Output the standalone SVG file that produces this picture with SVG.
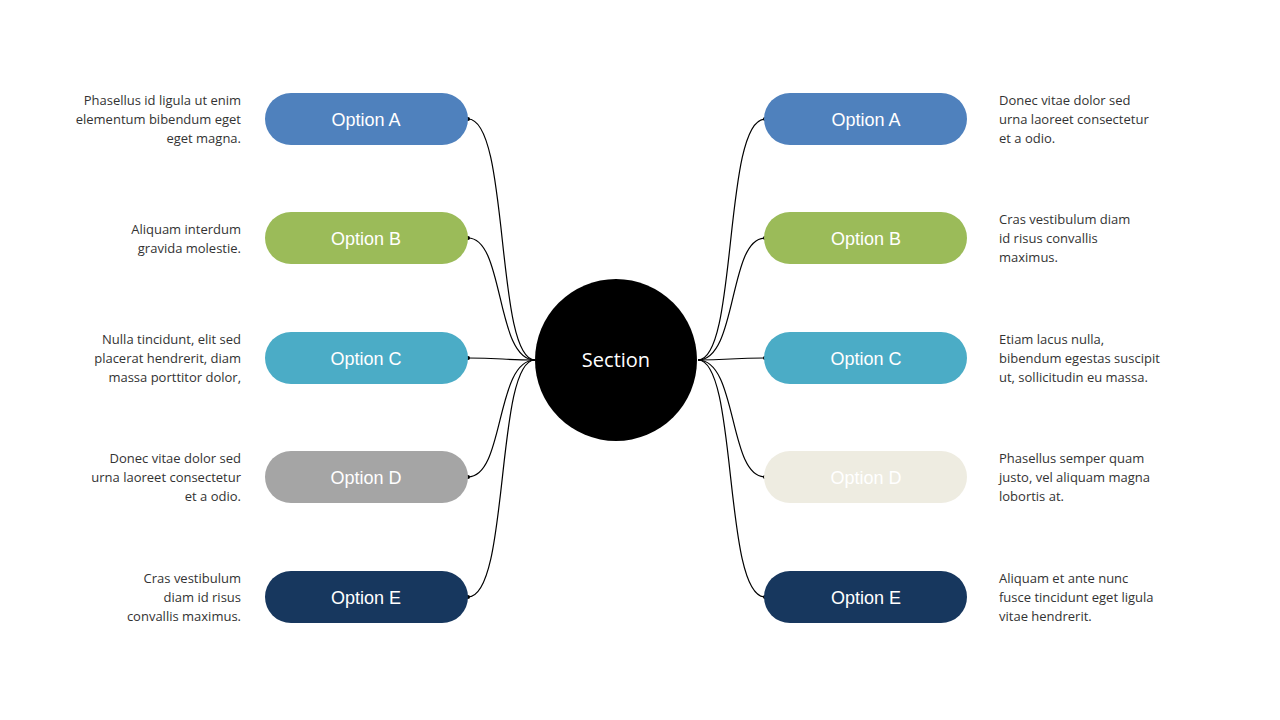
<svg xmlns="http://www.w3.org/2000/svg" width="1280" height="720" viewBox="0 0 1280 720">
<style>
.o{font-family:"Liberation Sans",Arial,sans-serif;font-size:18px;fill:#fff;text-anchor:middle}
.d{font-family:"Open Sans","DejaVu Sans",sans-serif;font-size:13px;fill:#333}
.l{text-anchor:end}
.c{fill:none;stroke:#000;stroke-width:1.2}
</style>
<rect width="1280" height="720" fill="#fff"/>
<g id="connectors">
<path class="c" d="M468,119 C510,119 495,360 535,360"/>
<path class="c" d="M468,238 C505,238 495,360 535,360"/>
<path class="c" d="M468,358 C500,358 505,360 535,360"/>
<path class="c" d="M468,477 C505,477 495,360 535,360"/>
<path class="c" d="M468,597 C510,597 495,360 535,360"/>
<path class="c" d="M765,119 C723,119 738,360 698,360"/>
<path class="c" d="M765,238 C728,238 738,360 698,360"/>
<path class="c" d="M765,358 C733,358 728,360 698,360"/>
<path class="c" d="M765,477 C728,477 738,360 698,360"/>
<path class="c" d="M765,597 C723,597 738,360 698,360"/>
<g fill="#000"><circle cx="468" cy="119" r="2"/><circle cx="468" cy="238" r="2"/><circle cx="468" cy="358" r="2"/><circle cx="468" cy="477" r="2"/><circle cx="468" cy="597" r="2"/><circle cx="765" cy="119" r="2"/><circle cx="765" cy="238" r="2"/><circle cx="765" cy="358" r="2"/><circle cx="765" cy="477" r="2"/><circle cx="765" cy="597" r="2"/></g>
</g>
<g id="section"><circle cx="616" cy="360" r="81" fill="#000"/><text x="616" y="367" font-family="'Open Sans',sans-serif" font-size="20" fill="#fff" text-anchor="middle">Section</text></g>
<g id="LA"><rect x="265" y="93" width="203" height="52" rx="26" fill="#4f81bd"/><text class="o" x="366" y="126">Option A</text>
<text class="d l"><tspan x="241" y="105">Phasellus id ligula ut enim</tspan><tspan x="241" y="124">elementum  bibendum  eget</tspan><tspan x="241" y="143">eget magna.</tspan></text></g>
<g id="LB"><rect x="265" y="212" width="203" height="52" rx="26" fill="#9bbb59"/><text class="o" x="366" y="245">Option B</text>
<text class="d l"><tspan x="241" y="234">Aliquam interdum</tspan><tspan x="241" y="253">gravida molestie.</tspan></text></g>
<g id="LC"><rect x="265" y="332" width="203" height="52" rx="26" fill="#4bacc6"/><text class="o" x="366" y="365">Option C</text>
<text class="d l"><tspan x="241" y="344">Nulla tincidunt,  elit sed</tspan><tspan x="241" y="363">placerat hendrerit,  diam</tspan><tspan x="241" y="382">massa porttitor dolor,</tspan></text></g>
<g id="LD"><rect x="265" y="451" width="203" height="52" rx="26" fill="#a5a5a5"/><text class="o" x="366" y="484">Option D</text>
<text class="d l"><tspan x="241" y="463">Donec vitae dolor sed</tspan><tspan x="241" y="482">urna  laoreet consectetur</tspan><tspan x="241" y="501">et a odio.</tspan></text></g>
<g id="LE"><rect x="265" y="571" width="203" height="52" rx="26" fill="#17375e"/><text class="o" x="366" y="604">Option E</text>
<text class="d l"><tspan x="241" y="583">Cras vestibulum</tspan><tspan x="241" y="602">diam id risus</tspan><tspan x="241" y="621">convallis maximus.</tspan></text></g>
<g id="RA"><rect x="764" y="93" width="203" height="52" rx="26" fill="#4f81bd"/><text class="o" x="866" y="126">Option A</text>
<text class="d"><tspan x="999" y="105">Donec vitae dolor sed</tspan><tspan x="999" y="124">urna  laoreet consectetur</tspan><tspan x="999" y="143">et a odio.</tspan></text></g>
<g id="RB"><rect x="764" y="212" width="203" height="52" rx="26" fill="#9bbb59"/><text class="o" x="866" y="245">Option B</text>
<text class="d"><tspan x="999" y="224">Cras vestibulum diam</tspan><tspan x="999" y="243">id risus convallis</tspan><tspan x="999" y="262">maximus.</tspan></text></g>
<g id="RC"><rect x="764" y="332" width="203" height="52" rx="26" fill="#4bacc6"/><text class="o" x="866" y="365">Option C</text>
<text class="d"><tspan x="999" y="344">Etiam lacus nulla,</tspan><tspan x="999" y="363">bibendum  egestas suscipit</tspan><tspan x="999" y="382">ut, sollicitudin eu massa.</tspan></text></g>
<g id="RD"><rect x="764" y="451" width="203" height="52" rx="26" fill="#eeece1"/><text class="o" x="866" y="484">Option D</text>
<text class="d"><tspan x="999" y="463">Phasellus semper quam</tspan><tspan x="999" y="482">justo, vel aliquam magna</tspan><tspan x="999" y="501">lobortis at.</tspan></text></g>
<g id="RE"><rect x="764" y="571" width="203" height="52" rx="26" fill="#17375e"/><text class="o" x="866" y="604">Option E</text>
<text class="d"><tspan x="999" y="583">Aliquam et ante nunc</tspan><tspan x="999" y="602">fusce tincidunt  eget ligula</tspan><tspan x="999" y="621">vitae hendrerit.</tspan></text></g>
</svg>
